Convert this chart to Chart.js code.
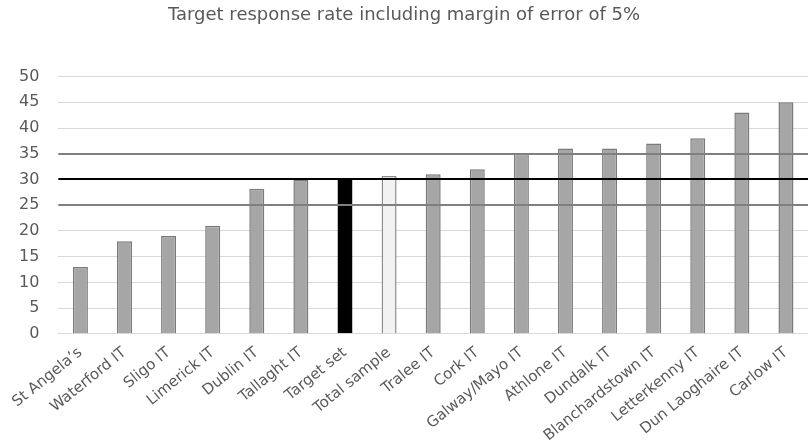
<!DOCTYPE html>
<html>
<head>
<meta charset="utf-8">
<script src="https://cdn.jsdelivr.net/npm/chart.js@4.4.1/dist/chart.umd.min.js"></script>
<style>
  html, body { margin: 0; padding: 0; background: #fff; }
  #wrap { width: 808px; height: 447px; }
</style>
</head>
<body>
<div id="wrap"><canvas id="c"></canvas></div>
<script>
const institutes = ["St Angela\u2019s", "Waterford IT", "Sligo IT", "Limerick IT", "Dublin IT", "Tallaght IT",
  "Target set", "Total sample", "Tralee IT", "Cork IT", "Galway/Mayo IT", "Athlone IT", "Dundalk IT",
  "Blanchardstown IT", "Letterkenny IT", "Dun Laoghaire IT", "Carlow IT"];
const responseRate = [13, 18, 19, 21, 28.2, 30, 30, 30.7, 31, 32, 35, 36, 36, 37, 38, 43, 45];
const targetLine = 30;
const marginLines = [25, 35];
const yTicks = [0, 50, 5];

const fills = institutes.map(n => n === "Target set" ? "#000000" : n === "Total sample" ? "#f2f2f2" : "#a6a6a6");
const borders = institutes.map(n => n === "Target set" ? "#000000" : n === "Total sample" ? "#8c8c8c" : "#7a7a7a");

// horizontal reference lines drawn through the y scale
const refLines = {
  id: "refLines",
  afterDatasetsDraw(chart) {
    const { ctx, chartArea: a, scales: { y } } = chart;
    ctx.save();
    marginLines.forEach(v => {
      ctx.strokeStyle = "#7f7f7f";
      ctx.lineWidth = 2;
      ctx.beginPath();
      ctx.moveTo(a.left, Math.round(y.getPixelForValue(v)));
      ctx.lineTo(a.right, Math.round(y.getPixelForValue(v)));
      ctx.stroke();
    });
    ctx.strokeStyle = "#000000";
    ctx.lineWidth = 2;
    ctx.beginPath();
    ctx.moveTo(a.left, Math.round(y.getPixelForValue(targetLine)));
    ctx.lineTo(a.right, Math.round(y.getPixelForValue(targetLine)));
    ctx.stroke();
    ctx.restore();
  }
};

new Chart(document.getElementById("c"), {
  type: "bar",
  data: {
    labels: institutes,
    datasets: [{
      data: responseRate,
      backgroundColor: fills,
      borderColor: borders,
      borderWidth: 1.5,
      categoryPercentage: 1,
      barPercentage: 0.34
    }]
  },
  options: {
    responsive: true,
    maintainAspectRatio: false,
    animation: false,
    layout: { padding: { left: 0, right: 0, top: 3, bottom: 0 } },
    plugins: {
      legend: { display: false },
      tooltip: { enabled: false },
      title: {
        display: true,
        text: "Target response rate including margin of error of 5%",
        color: "#595959",
        font: { family: "DejaVu Sans", size: 18, weight: "normal" },
        padding: { top: 2, bottom: 50 }
      }
    },
    scales: {
      x: {
        grid: { display: false },
        border: { color: "#d9d9d9", width: 1 },
        ticks: {
          color: "#595959",
          font: { family: "DejaVu Sans", size: 15 },
          maxRotation: 39,
          minRotation: 39,
          autoSkip: false,
          padding: 2
        }
      },
      y: {
        min: yTicks[0],
        max: yTicks[1],
        ticks: {
          stepSize: yTicks[2],
          color: "#595959",
          font: { family: "DejaVu Sans", size: 16 },
          padding: 19
        },
        grid: { color: "#d9d9d9", drawTicks: false },
        border: { display: false }
      }
    }
  },
  plugins: [refLines]
});
</script>
</body>
</html>
